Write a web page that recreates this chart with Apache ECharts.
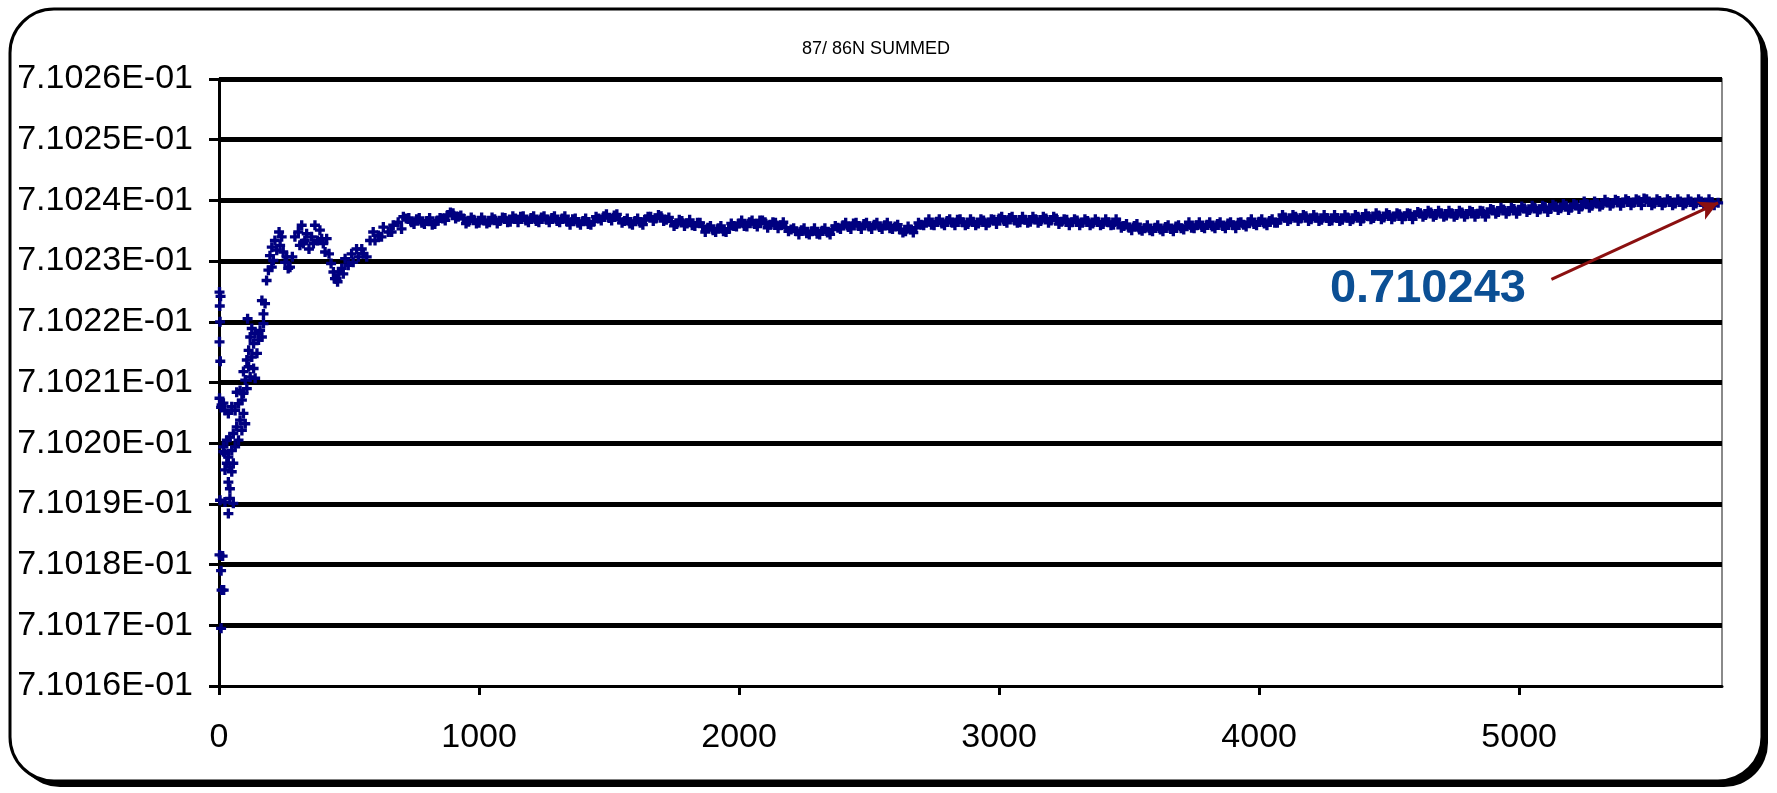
<!DOCTYPE html>
<html>
<head>
<meta charset="utf-8">
<title>87/86N SUMMED</title>
<script src="https://cdn.jsdelivr.net/npm/echarts@6/dist/echarts.min.js"></script>
<style>
  html, body { margin: 0; padding: 0; background: #fff; }
  #chart { width: 1777px; height: 793px; }
</style>
</head>
<body>
<div id="chart"></div>
<script>
// Cycle number vs. running 87/86 ratio (normalised, summed)
const chartTitle = '87/ 86N SUMMED';

// Axis ticks
const xTicks = [0, 1000, 2000, 3000, 4000, 5000];
const xMax = 5780;
const yTicks = [0.71016, 0.71017, 0.71018, 0.71019, 0.71020, 0.71021,
                0.71022, 0.71023, 0.71024, 0.71025, 0.71026];

// First ~700 cycles: scattered start-up values
const startupPoints = [
  [2,0.7102249],[6,0.7102242],[3,0.7102226],[4,0.7102200],[2,0.7102167],[5,0.7102135],
  [2,0.7102074],[10,0.7102063],[4,0.7101906],[2,0.7101816],[14,0.7101814],[8,0.7101790],
  [10,0.7101758],[18,0.7101758],[8,0.7101695],
  [17,0.7102066],[8,0.7102059],[23,0.7102054],[36,0.7102049],[49,0.7102060],[62,0.7102054],
  [75,0.7102065],[88,0.7102071],[94,0.7102049],[81,0.7102038],[68,0.7102027],[55,0.7102016],
  [42,0.7102010],[30,0.7102005],[17,0.7101994],[23,0.7101983],[36,0.7101977],[49,0.7101988],
  [62,0.7101994],[75,0.7102005],[88,0.7102021],[101,0.7102032],[30,0.7101967],[42,0.7101961],
  [55,0.7101967],[23,0.7101956],[49,0.7101953],[36,0.7101936],[42,0.7101925],[36,0.7101884],
  [23,0.7101903],[42,0.7101909],[55,0.7101901],[17,0.7101986],
  [94,0.7102082],[107,0.7102090],[81,0.7102087],[68,0.7102084],[101,0.7102104],[120,0.7102109],
  [139,0.7102107],[94,0.7102118],[114,0.7102126],[133,0.7102123],[107,0.7102137],[126,0.7102142],
  [146,0.7102148],[114,0.7102153],[133,0.7102164],[152,0.7102170],[120,0.7102175],[139,0.7102181],
  [165,0.7102175],[158,0.7102186],[126,0.7102189],[110,0.7102205],[171,0.7102197],[171,0.7102213],
  [177,0.7102230],[165,0.7102235],
  [183,0.7102268],[190,0.7102285],[196,0.7102309],[203,0.7102323],[209,0.7102301],[215,0.7102334],
  [222,0.7102318],[231,0.7102348],[241,0.7102340],[247,0.7102315],[260,0.7102307],[273,0.7102290],
  [282,0.7102307],[292,0.7102340],[305,0.7102348],[318,0.7102359],[324,0.7102329],[337,0.7102345],
  [346,0.7102320],[356,0.7102340],[369,0.7102359],[379,0.7102334],[388,0.7102351],[401,0.7102329],
  [414,0.7102337],[423,0.7102312],[431,0.7102296],[440,0.7102282],[452,0.7102271],[461,0.7102282],
  [472,0.7102288],[485,0.7102304],[497,0.7102293],[510,0.7102312],[529,0.7102320],[549,0.7102320],
  [568,0.7102307],[581,0.7102334],[593,0.7102348],[613,0.7102342],[632,0.7102356],[651,0.7102348],
  [670,0.7102359],[689,0.7102364],[709,0.7102373],
  [203,0.7102290],[235,0.7102326],[254,0.7102298],[266,0.7102288],[311,0.7102326],[330,0.7102334],
  [363,0.7102329],[395,0.7102337],[408,0.7102315],[446,0.7102271],[456,0.7102266],[478,0.7102279],
  [516,0.7102298],[536,0.7102307],[555,0.7102312],[600,0.7102334],[625,0.7102340],[664,0.7102348],
  [702,0.7102353]
];

// Remaining cycles: slowly drifting plateau (even tens)
const plateauPoints = [
  [720,0.7102370],[740,0.7102364],[760,0.7102369],[780,0.7102363],[800,0.7102366],[820,0.7102360],
  [840,0.7102367],[860,0.7102370],[880,0.7102376],[900,0.7102379],[920,0.7102373],[940,0.7102370],
  [960,0.7102365],[980,0.7102368],[1000,0.7102363],[1020,0.7102367],[1040,0.7102364],[1060,0.7102369],
  [1080,0.7102366],[1100,0.7102371],[1120,0.7102365],[1140,0.7102370],[1160,0.7102373],[1180,0.7102367],
  [1200,0.7102371],[1220,0.7102366],[1240,0.7102372],[1260,0.7102368],[1280,0.7102371],[1300,0.7102366],
  [1320,0.7102370],[1340,0.7102365],[1360,0.7102369],[1380,0.7102363],[1400,0.7102366],[1420,0.7102361],
  [1440,0.7102365],[1460,0.7102370],[1480,0.7102374],[1500,0.7102371],[1520,0.7102375],[1540,0.7102369],
  [1560,0.7102366],[1580,0.7102362],[1600,0.7102366],[1620,0.7102363],[1640,0.7102369],[1660,0.7102373],
  [1680,0.7102370],[1700,0.7102374],[1720,0.7102368],[1740,0.7102365],[1760,0.7102361],[1780,0.7102366],
  [1800,0.7102362],[1820,0.7102359],[1840,0.7102363],[1860,0.7102357],[1880,0.7102355],[1900,0.7102351],
  [1920,0.7102354],[1940,0.7102349],[1960,0.7102353],[1980,0.7102358],[2000,0.7102362],[2020,0.7102358],
  [2040,0.7102364],[2060,0.7102361],[2080,0.7102367],[2100,0.7102364],[2120,0.7102360],[2140,0.7102363],
  [2160,0.7102359],[2180,0.7102355],[2200,0.7102352],[2220,0.7102349],[2240,0.7102351],[2260,0.7102346],
  [2280,0.7102349],[2300,0.7102345],[2320,0.7102350],[2340,0.7102347],[2360,0.7102352],[2380,0.7102355],
  [2400,0.7102359],[2420,0.7102356],[2440,0.7102362],[2460,0.7102358],[2480,0.7102361],[2500,0.7102357],
  [2520,0.7102360],[2540,0.7102356],[2560,0.7102359],[2580,0.7102354],[2600,0.7102357],[2620,0.7102352],
  [2640,0.7102349],[2660,0.7102352],[2680,0.7102355],[2700,0.7102360],[2720,0.7102363],[2740,0.7102360],
  [2760,0.7102365],[2780,0.7102362],[2800,0.7102366],[2820,0.7102363],[2840,0.7102368],[2860,0.7102364],
  [2880,0.7102361],[2900,0.7102365],[2920,0.7102362],[2940,0.7102367],[2960,0.7102363],[2980,0.7102368],
  [3000,0.7102370],[3020,0.7102366],[3040,0.7102371],[3060,0.7102367],[3080,0.7102364],[3100,0.7102368],
  [3120,0.7102365],[3140,0.7102369],[3160,0.7102366],[3180,0.7102370],[3200,0.7102367],[3220,0.7102370],
  [3240,0.7102365],[3260,0.7102368],[3280,0.7102364],[3300,0.7102367],[3320,0.7102363],[3340,0.7102366],
  [3360,0.7102362],[3380,0.7102365],[3400,0.7102361],[3420,0.7102364],[3440,0.7102360],[3460,0.7102363],
  [3480,0.7102358],[3500,0.7102355],[3520,0.7102358],[3540,0.7102352],[3560,0.7102354],[3580,0.7102351],
  [3600,0.7102355],[3620,0.7102352],[3640,0.7102356],[3660,0.7102353],[3680,0.7102357],[3700,0.7102354],
  [3720,0.7102358],[3740,0.7102355],[3760,0.7102359],[3780,0.7102356],[3800,0.7102360],[3820,0.7102357],
  [3840,0.7102361],[3860,0.7102358],[3880,0.7102362],[3900,0.7102359],[3920,0.7102363],[3940,0.7102360],
  [3960,0.7102364],[3980,0.7102361],[4000,0.7102365],[4020,0.7102362],[4040,0.7102366],[4060,0.7102363],
  [4080,0.7102368],[4100,0.7102372],[4120,0.7102369],[4140,0.7102373],[4160,0.7102370],[4180,0.7102374],
  [4200,0.7102369],[4220,0.7102372],[4240,0.7102368],[4260,0.7102371],[4280,0.7102367],[4300,0.7102371],
  [4320,0.7102368],[4340,0.7102372],[4360,0.7102369],[4380,0.7102373],[4400,0.7102370],[4420,0.7102374],
  [4440,0.7102371],[4460,0.7102375],[4480,0.7102372],[4500,0.7102376],[4520,0.7102373],[4540,0.7102377],
  [4560,0.7102374],[4580,0.7102378],[4600,0.7102375],[4620,0.7102379],[4640,0.7102376],[4660,0.7102380],
  [4680,0.7102376],[4700,0.7102379],[4720,0.7102375],[4740,0.7102379],[4760,0.7102376],[4780,0.7102380],
  [4800,0.7102377],[4820,0.7102381],[4840,0.7102378],[4860,0.7102382],[4880,0.7102379],[4900,0.7102384],
  [4920,0.7102381],[4940,0.7102385],[4960,0.7102382],[4980,0.7102386],[5000,0.7102383],[5020,0.7102387],
  [5040,0.7102384],[5060,0.7102388],[5080,0.7102385],[5100,0.7102389],[5120,0.7102386],[5140,0.7102390],
  [5160,0.7102387],[5180,0.7102391],[5200,0.7102388],[5220,0.7102392],[5240,0.7102390],[5260,0.7102394],
  [5280,0.7102391],[5300,0.7102395],[5320,0.7102393],[5340,0.7102397],[5360,0.7102395],[5380,0.7102399],
  [5400,0.7102396],[5420,0.7102399],[5440,0.7102396],[5460,0.7102400],[5480,0.7102403],[5500,0.7102398],
  [5520,0.7102395],[5540,0.7102399],[5560,0.7102396],[5580,0.7102399],[5600,0.7102395],[5620,0.7102398],
  [5640,0.7102395],[5660,0.7102398],[5680,0.7102395],[5700,0.7102398],[5720,0.7102395],[5740,0.7102397],
  [5765,0.7102396]
];

// Plateau, odd tens: the upper and lower edges of the scatter band
const plateauEdgePoints = [
  [730,0.7102371],[750,0.7102361],[770,0.7102371],[790,0.7102361],[810,0.7102371],[830,0.7102361],
  [850,0.7102371],[870,0.7102367],[890,0.7102380],[910,0.7102370],[930,0.7102375],[950,0.7102362],
  [970,0.7102372],[990,0.7102362],[1010,0.7102372],[1030,0.7102362],[1050,0.7102372],[1070,0.7102362],
  [1090,0.7102372],[1110,0.7102364],[1130,0.7102374],[1150,0.7102364],[1170,0.7102374],[1190,0.7102364],
  [1210,0.7102374],[1230,0.7102364],[1250,0.7102374],[1270,0.7102364],[1290,0.7102374],[1310,0.7102364],
  [1330,0.7102374],[1350,0.7102360],[1370,0.7102370],[1390,0.7102360],[1410,0.7102370],[1430,0.7102360],
  [1450,0.7102373],[1470,0.7102367],[1490,0.7102377],[1510,0.7102367],[1530,0.7102377],[1550,0.7102363],
  [1570,0.7102370],[1590,0.7102360],[1610,0.7102370],[1630,0.7102360],[1650,0.7102373],[1670,0.7102366],
  [1690,0.7102376],[1710,0.7102366],[1730,0.7102372],[1750,0.7102358],[1770,0.7102368],[1790,0.7102358],
  [1810,0.7102368],[1830,0.7102358],[1850,0.7102363],[1870,0.7102348],[1890,0.7102358],[1910,0.7102348],
  [1930,0.7102358],[1950,0.7102348],[1970,0.7102362],[1990,0.7102357],[2010,0.7102367],[2030,0.7102357],
  [2050,0.7102367],[2070,0.7102357],[2090,0.7102367],[2110,0.7102355],[2130,0.7102364],[2150,0.7102354],
  [2170,0.7102364],[2190,0.7102349],[2210,0.7102354],[2230,0.7102344],[2250,0.7102354],[2270,0.7102344],
  [2290,0.7102354],[2310,0.7102344],[2330,0.7102354],[2350,0.7102344],[2370,0.7102358],[2390,0.7102353],
  [2410,0.7102363],[2430,0.7102353],[2450,0.7102363],[2470,0.7102353],[2490,0.7102363],[2510,0.7102353],
  [2530,0.7102363],[2550,0.7102353],[2570,0.7102363],[2590,0.7102353],[2610,0.7102360],[2630,0.7102347],
  [2650,0.7102357],[2670,0.7102347],[2690,0.7102363],[2710,0.7102359],[2730,0.7102369],[2750,0.7102359],
  [2770,0.7102369],[2790,0.7102359],[2810,0.7102369],[2830,0.7102359],[2850,0.7102369],[2870,0.7102359],
  [2890,0.7102369],[2910,0.7102359],[2930,0.7102369],[2950,0.7102359],[2970,0.7102369],[2990,0.7102361],
  [3010,0.7102373],[3030,0.7102363],[3050,0.7102373],[3070,0.7102363],[3090,0.7102373],[3110,0.7102363],
  [3130,0.7102373],[3150,0.7102363],[3170,0.7102373],[3190,0.7102363],[3210,0.7102373],[3230,0.7102361],
  [3250,0.7102369],[3270,0.7102359],[3290,0.7102369],[3310,0.7102359],[3330,0.7102369],[3350,0.7102359],
  [3370,0.7102369],[3390,0.7102359],[3410,0.7102369],[3430,0.7102359],[3450,0.7102369],[3470,0.7102355],
  [3490,0.7102361],[3510,0.7102351],[3530,0.7102361],[3550,0.7102350],[3570,0.7102359],[3590,0.7102349],
  [3610,0.7102359],[3630,0.7102349],[3650,0.7102359],[3670,0.7102349],[3690,0.7102359],[3710,0.7102352],
  [3730,0.7102364],[3750,0.7102354],[3770,0.7102364],[3790,0.7102354],[3810,0.7102364],[3830,0.7102354],
  [3850,0.7102364],[3870,0.7102354],[3890,0.7102364],[3910,0.7102354],[3930,0.7102364],[3950,0.7102357],
  [3970,0.7102369],[3990,0.7102359],[4010,0.7102369],[4030,0.7102359],[4050,0.7102369],[4070,0.7102363],
  [4090,0.7102376],[4110,0.7102366],[4130,0.7102376],[4150,0.7102366],[4170,0.7102376],[4190,0.7102366],
  [4210,0.7102376],[4230,0.7102366],[4250,0.7102376],[4270,0.7102366],[4290,0.7102376],[4310,0.7102366],
  [4330,0.7102376],[4350,0.7102366],[4370,0.7102376],[4390,0.7102366],[4410,0.7102378],[4430,0.7102369],
  [4450,0.7102379],[4470,0.7102369],[4490,0.7102379],[4510,0.7102369],[4530,0.7102379],[4550,0.7102369],
  [4570,0.7102379],[4590,0.7102369],[4610,0.7102381],[4630,0.7102373],[4650,0.7102383],[4670,0.7102373],
  [4690,0.7102383],[4710,0.7102373],[4730,0.7102383],[4750,0.7102373],[4770,0.7102383],[4790,0.7102373],
  [4810,0.7102383],[4830,0.7102373],[4850,0.7102383],[4870,0.7102373],[4890,0.7102386],[4910,0.7102378],
  [4930,0.7102388],[4950,0.7102378],[4970,0.7102388],[4990,0.7102378],[5010,0.7102390],[5030,0.7102381],
  [5050,0.7102391],[5070,0.7102381],[5090,0.7102391],[5110,0.7102381],[5130,0.7102393],[5150,0.7102384],
  [5170,0.7102394],[5190,0.7102384],[5210,0.7102394],[5230,0.7102386],[5250,0.7102398],[5270,0.7102388],
  [5290,0.7102398],[5310,0.7102390],[5330,0.7102401],[5350,0.7102391],[5370,0.7102401],[5390,0.7102391],
  [5410,0.7102402],[5430,0.7102392],[5450,0.7102402],[5470,0.7102392],[5490,0.7102402],[5510,0.7102392],
  [5530,0.7102402],[5550,0.7102392],[5570,0.7102402],[5590,0.7102392],[5610,0.7102402],[5630,0.7102392],
  [5650,0.7102402],[5670,0.7102392],[5690,0.7102402],[5710,0.7102392],[5730,0.7102402],[5750,0.7102392]
];

// Callout for the final ratio
const finalLabel = '0.710243';
const calloutTail = [5124, 0.7102270];
const calloutTextAt = [4649, 0.7102254];

const allPoints = startupPoints.concat(plateauPoints, plateauEdgePoints);
const lastPoint = plateauPoints[plateauPoints.length - 1];

const FONT = '"Liberation Sans", Arial, Helvetica, sans-serif';
const plusSymbol = 'path://M3,0H6V3H9V6H6V9H3V6H0V3H3Z';

const chart = echarts.init(document.getElementById('chart'), null, { renderer: 'canvas' });

const frameShape = { x: 10, y: 9, width: 1752, height: 772, r: 44 };

chart.setOption({
  animation: false,
  backgroundColor: '#ffffff',
  textStyle: { fontFamily: FONT },
  graphic: [
    { // drop shadow of the outer frame
      type: 'rect', z: -101, silent: true,
      shape: Object.assign({}, frameShape, { x: frameShape.x + 6, y: frameShape.y + 6 }),
      style: { fill: '#000000' }
    },
    { // outer frame
      type: 'rect', z: -100, silent: true,
      shape: frameShape,
      style: { fill: '#ffffff', stroke: '#000000', lineWidth: 3 }
    }
  ],
  title: {
    text: chartTitle,
    left: 871,
    top: 35,
    textAlign: 'center',
    textStyle: { fontFamily: FONT, fontSize: 18, fontWeight: 'normal', color: '#000' }
  },
  grid: {
    left: 219, right: 55, top: 79, bottom: 107,
    show: true, borderColor: '#8a8a8a', borderWidth: 2, backgroundColor: 'transparent'
  },
  xAxis: {
    type: 'value',
    min: xTicks[0], max: xMax, interval: 1000,
    axisLine: { show: true, onZero: false, lineStyle: { color: '#000', width: 3 } },
    axisTick: { show: true, length: 9, customValues: xTicks, lineStyle: { color: '#000', width: 3 } },
    axisLabel: {
      customValues: xTicks, fontSize: 34, color: '#000', margin: 35, fontFamily: FONT,
      formatter: v => String(v)
    },
    splitLine: { show: false }
  },
  yAxis: {
    type: 'value',
    min: yTicks[0], max: yTicks[yTicks.length - 1], interval: 0.00001,
    axisLine: { show: true, onZero: false, lineStyle: { color: '#000', width: 3 } },
    axisTick: { show: true, length: 10, lineStyle: { color: '#000', width: 3 } },
    axisLabel: {
      fontSize: 34, color: '#000', margin: 26, fontFamily: FONT,
      formatter: v => (v * 10).toFixed(4) + 'E-01'
    },
    splitLine: { show: true, showMinLine: false, lineStyle: { color: '#000', width: 5 } }
  },
  series: [{
    type: 'scatter',
    data: allPoints,
    symbol: plusSymbol,
    symbolSize: 10,
    itemStyle: { color: '#000080', opacity: 1 },
    silent: true,
    markLine: {
      silent: true,
      symbol: ['none', 'arrow'],
      symbolSize: [15, 19],
      lineStyle: { color: '#8b1010', width: 3, type: 'solid' },
      label: { show: false },
      data: [[{ coord: calloutTail }, { coord: lastPoint }]]
    },
    markPoint: {
      silent: true,
      symbol: 'circle',
      symbolSize: 0,
      itemStyle: { color: 'transparent' },
      label: {
        show: true, position: 'inside', formatter: finalLabel,
        fontFamily: FONT, fontSize: 47, fontWeight: 'bold', color: '#0b4f94'
      },
      data: [{ coord: calloutTextAt }]
    }
  }]
});
</script>
</body>
</html>
